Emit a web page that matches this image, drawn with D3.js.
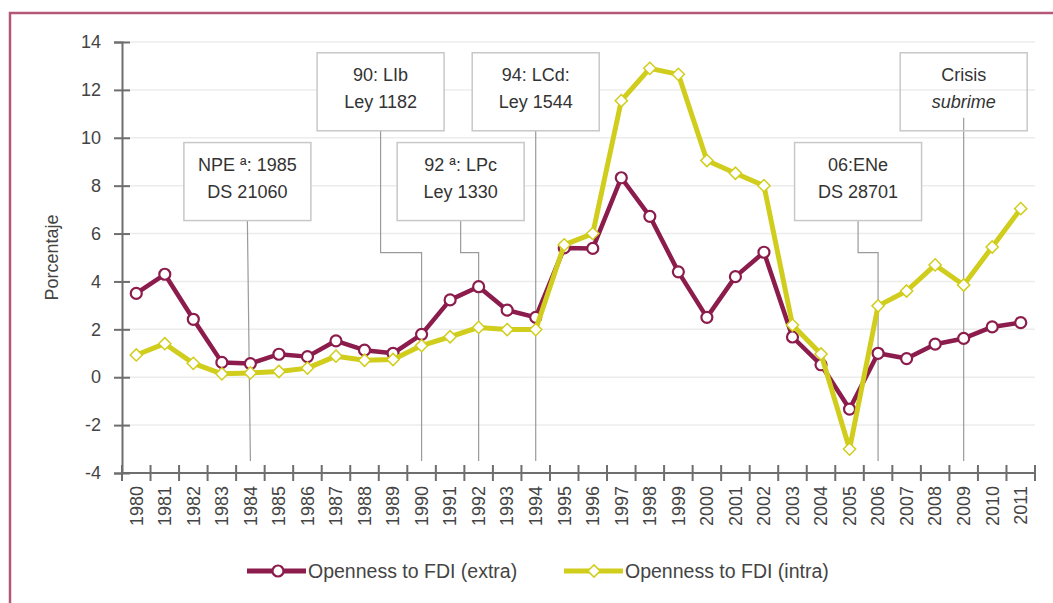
<!DOCTYPE html>
<html>
<head>
<meta charset="utf-8">
<script src="https://cdn.jsdelivr.net/npm/d3@7"></script>
<style>
  body { margin: 0; background: #fff; }
  svg text { font-family: "Liberation Sans", Arial, sans-serif; fill: #444; }
</style>
</head>
<body>
<svg width="1053" height="603"></svg>
<script>
// data
var years = [1980,1981,1982,1983,1984,1985,1986,1987,1988,1989,1990,1991,1992,1993,1994,1995,
             1996,1997,1998,1999,2000,2001,2002,2003,2004,2005,2006,2007,2008,2009,2010,2011];
var extra = [3.5,4.3,2.42,0.62,0.57,0.96,0.86,1.52,1.13,1.0,1.79,3.23,3.78,2.8,2.5,5.4,
             5.38,8.33,6.72,4.4,2.5,4.2,5.22,1.68,0.52,-1.33,1.0,0.78,1.38,1.62,2.1,2.28];
var intra = [0.93,1.4,0.58,0.14,0.18,0.24,0.38,0.88,0.71,0.74,1.32,1.69,2.08,1.99,1.99,5.53,
             6.0,11.55,12.9,12.65,9.05,8.52,8.0,2.18,0.97,-3.0,2.98,3.6,4.69,3.85,5.44,7.04];
var yTicks = [-4,-2,0,2,4,6,8,10,12,14];
var seriesNames = ['Openness to FDI (extra)', 'Openness to FDI (intra)'];

// annotation boxes: text lines, year pointed at, row (0 = top, 1 = lower), box centre shift
var notes = [
  {lines: ['NPE \u00aa: 1985', 'DS 21060'], year: 1984, row: 1, shift: -3},
  {lines: ['90: LIb', 'Ley 1182'], year: 1990, row: 0, shift: -41},
  {lines: ['92 \u00aa: LPc', 'Ley 1330'], year: 1992, row: 1, shift: -18},
  {lines: ['94: LCd:', 'Ley 1544'], year: 1994, row: 0, shift: 0},
  {lines: ['06:ENe', 'DS 28701'], year: 2006, row: 1, shift: -20},
  {lines: ['Crisis', 'subrime'], year: 2009, row: 0, shift: 0, italic2: true}
];

var maroon = '#8b1c4c', yellow = '#d0cd1c', axisCol = '#6e6e6e';

var svg = d3.select('svg');

// outer frame (top and left only)
svg.append('path')
  .attr('d', 'M10,603 V13 H1053')
  .style('fill', 'none')
  .style('stroke', '#b4587a')
  .style('stroke-width', 2.5);

var x = d3.scaleBand().domain(years).range([122, 1035]).padding(0);
var y = d3.scaleLinear().domain([-4, 14]).range([473, 42]);
var cx = function(yr) { return x(yr) + x.bandwidth() / 2; };

// gridlines
svg.append('g').selectAll('line')
  .data(yTicks.slice(1))
  .enter().append('line')
  .attr('x1', 122).attr('x2', 1035)
  .attr('y1', function(d) { return y(d); })
  .attr('y2', function(d) { return y(d); })
  .style('stroke', '#ececec')
  .style('stroke-width', 1.5);

// y axis
var yAxis = svg.append('g')
  .attr('transform', 'translate(122,0)')
  .call(d3.axisLeft(y).tickValues(yTicks).tickSize(8).tickPadding(12)
    .tickFormat(function(d) { return String(d); }));
yAxis.select('.domain').style('stroke', axisCol).style('stroke-width', 2);
yAxis.selectAll('.tick line').attr('x2', 8).attr('x1', -8).style('stroke', axisCol).style('stroke-width', 2);
yAxis.selectAll('.tick text').attr('x', -21).style('font-size', '18px').style('fill', '#444');

svg.append('text')
  .attr('transform', 'translate(58,' + y(5) + ') rotate(-90)')
  .attr('text-anchor', 'middle')
  .style('font-size', '18px')
  .text('Porcentaje');

// x axis: line + ticks at band edges, labels at centres
var xg = svg.append('g');
xg.append('line')
  .attr('x1', 122).attr('x2', 1035)
  .attr('y1', y(-4)).attr('y2', y(-4))
  .style('stroke', axisCol).style('stroke-width', 2);
var edges = years.map(function(d) { return x(d); }).concat([x(years[years.length - 1]) + x.bandwidth()]);
xg.selectAll('line.tk')
  .data(edges)
  .enter().append('line')
  .attr('class', 'tk')
  .attr('x1', function(d) { return d; }).attr('x2', function(d) { return d; })
  .attr('y1', y(-4) - 8).attr('y2', y(-4) + 8)
  .style('stroke', axisCol).style('stroke-width', 2);
xg.selectAll('text')
  .data(years)
  .enter().append('text')
  .attr('transform', function(d) { return 'translate(' + cx(d) + ',' + (y(-4) + 13) + ') rotate(-90)'; })
  .attr('text-anchor', 'end')
  .attr('dy', '0.35em')
  .style('font-size', '18px')
  .text(function(d) { return d; });

// annotations
var boxW = 127, boxH = 78;
var rowTop = [y(13.55), y(9.8)];
var elbowY = y(5.2), lineEnd = y(-3.5);
var ann = svg.append('g');
notes.forEach(function(n) {
  var lx = cx(n.year);
  var bx = lx + n.shift;
  var top = rowTop[n.row];
  var path;
  if (n.italic2) {
    path = 'M' + bx + ',' + (top + 65) + ' V' + lineEnd;
  } else if (Math.abs(n.shift) > 5) {
    path = 'M' + bx + ',' + (top + boxH) + ' V' + elbowY + ' H' + lx + ' V' + lineEnd;
  } else {
    path = 'M' + bx + ',' + (top + boxH) + ' L' + lx + ',' + lineEnd;
  }
  ann.append('path')
    .attr('d', path)
    .style('fill', 'none')
    .style('stroke', '#9a9a9a')
    .style('stroke-width', 1.2);
  ann.append('rect')
    .attr('x', bx - boxW / 2).attr('y', top)
    .attr('width', boxW).attr('height', boxH)
    .style('fill', n.italic2 ? 'none' : '#fff')
    .style('stroke', '#c8c8c8')
    .style('stroke-width', 1.5);
  n.lines.forEach(function(t, i) {
    ann.append('text')
      .attr('x', bx).attr('y', top + 28 + i * 27)
      .attr('text-anchor', 'middle')
      .style('font-size', '18px')
      .style('font-style', (n.italic2 && i == 1) ? 'italic' : 'normal')
      .style('fill', '#333')
      .text(t);
  });
});

// series
var line = d3.line()
  .x(function(d, i) { return cx(years[i]); })
  .y(function(d) { return y(d); });

svg.append('path')
  .datum(extra)
  .attr('d', line)
  .style('fill', 'none')
  .style('stroke', maroon)
  .style('stroke-width', 4.5)
  .style('stroke-linejoin', 'round');
svg.append('g').selectAll('circle')
  .data(extra)
  .enter().append('circle')
  .attr('cx', function(d, i) { return cx(years[i]); })
  .attr('cy', function(d) { return y(d); })
  .attr('r', 5.5)
  .style('fill', '#fff')
  .style('stroke', maroon)
  .style('stroke-width', 2.2);

svg.append('path')
  .datum(intra)
  .attr('d', line)
  .style('fill', 'none')
  .style('stroke', yellow)
  .style('stroke-width', 5)
  .style('stroke-linejoin', 'round');
var diamond = d3.symbol().type(d3.symbolDiamond2 || d3.symbolDiamond).size(95);
svg.append('g').selectAll('path')
  .data(intra)
  .enter().append('path')
  .attr('d', diamond)
  .attr('transform', function(d, i) { return 'translate(' + cx(years[i]) + ',' + y(d) + ')'; })
  .style('fill', '#fff')
  .style('stroke', yellow)
  .style('stroke-width', 1.5);

// legend
var legend = svg.append('g').attr('transform', 'translate(247,571)');
var legItems = [
  {name: seriesNames[0], color: maroon, x0: 0, mark: 'circle'},
  {name: seriesNames[1], color: yellow, x0: 317, mark: 'diamond'}
];
legItems.forEach(function(it) {
  var g = legend.append('g').attr('transform', 'translate(' + it.x0 + ',0)');
  g.append('line')
    .attr('x1', 0).attr('x2', 59)
    .style('stroke', it.color).style('stroke-width', 5);
  if (it.mark == 'circle') {
    g.append('circle').attr('cx', 31).attr('r', 5.5)
      .style('fill', '#fff').style('stroke', it.color).style('stroke-width', 2.2);
  } else {
    g.append('path').attr('d', diamond).attr('transform', 'translate(30,0)')
      .style('fill', '#fff').style('stroke', it.color).style('stroke-width', 1.5);
  }
  g.append('text')
    .attr('x', 61).attr('dy', '0.35em')
    .style('font-size', '19.5px')
    .text(it.name);
});
</script>
</body>
</html>
